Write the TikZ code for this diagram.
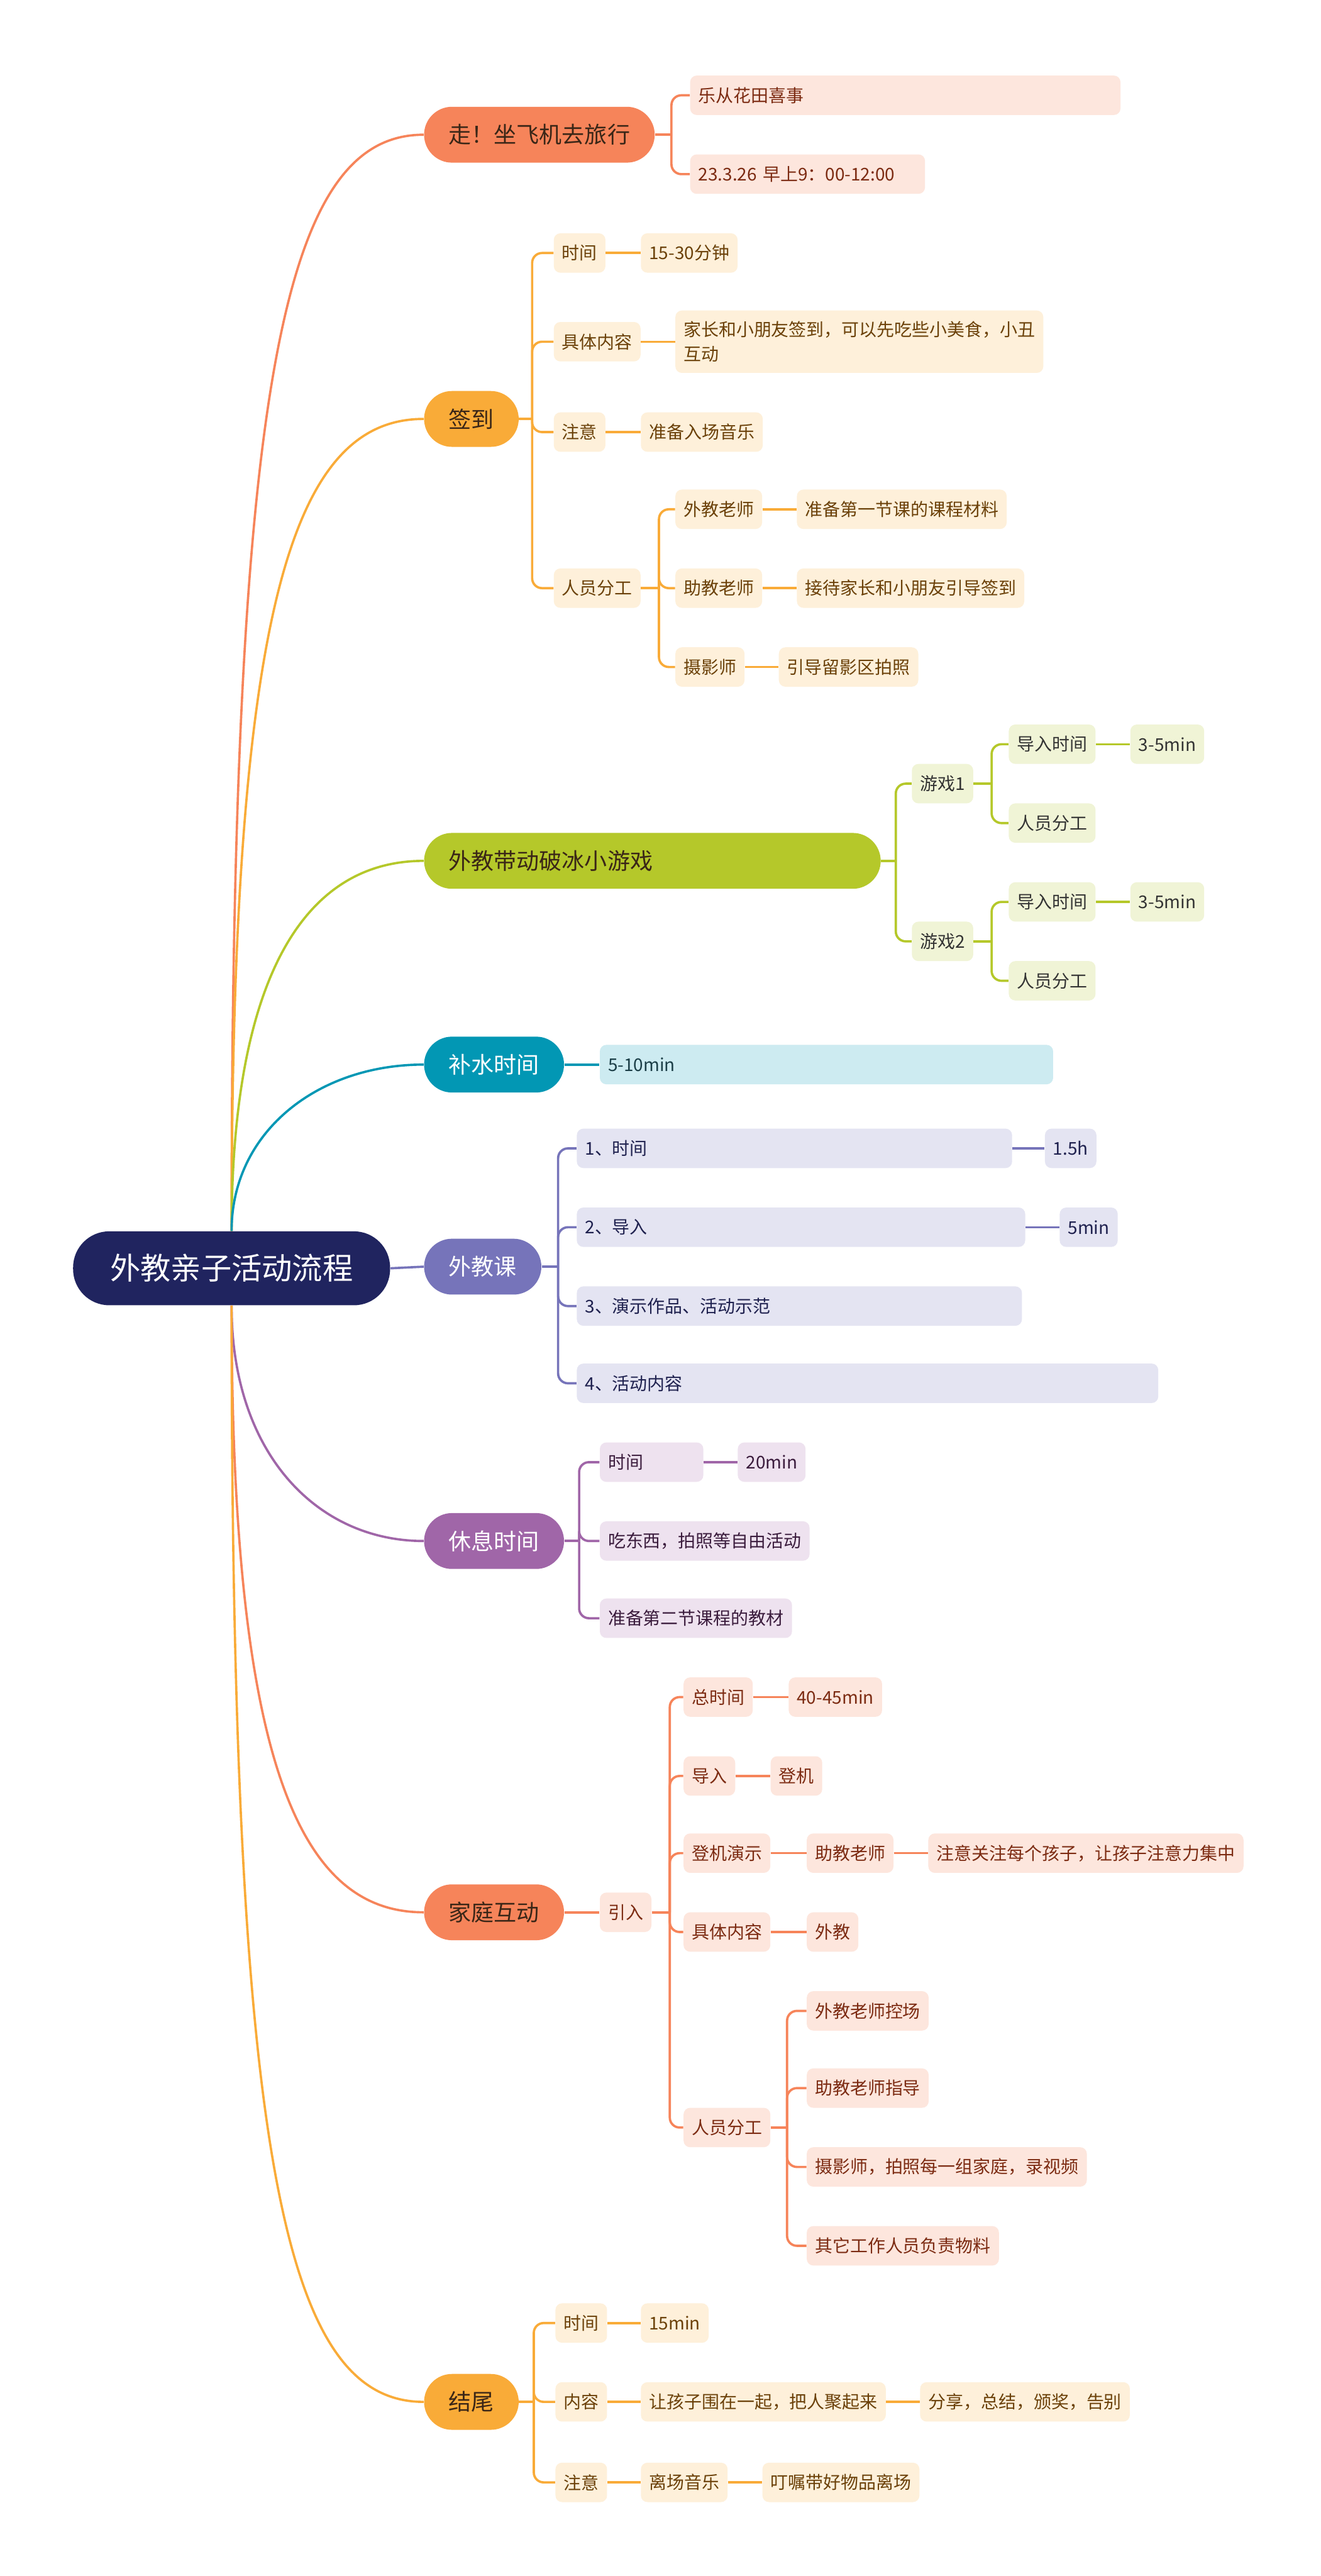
\documentclass[tikz,border=0pt]{standalone}
\usepackage{fontspec}
\setmainfont{Noto Sans CJK SC}
\usetikzlibrary{positioning}
\definecolor{Navy}  {HTML}{20245F}
\definecolor{DarkTx}{HTML}{3A2617}
\definecolor{Sal}   {HTML}{F6845A}
\definecolor{SalLt} {HTML}{FDE6DD}
\definecolor{SalTx} {HTML}{7C2B12}
\definecolor{Ora}   {HTML}{F9AB38}
\definecolor{OraLt} {HTML}{FEF0DA}
\definecolor{OraTx} {HTML}{6B4109}
\definecolor{Lime}  {HTML}{B5C82A}
\definecolor{LimeLt}{HTML}{F0F4D6}
\definecolor{LimeTx}{HTML}{333333}
\definecolor{Teal}  {HTML}{0297B4}
\definecolor{TealLt}{HTML}{CDEBF1}
\definecolor{TealTx}{HTML}{1B3E47}
\definecolor{Iris}  {HTML}{7674BA}
\definecolor{IrisLt}{HTML}{E4E4F2}
\definecolor{IrisTx}{HTML}{1F214F}
\definecolor{Plum}  {HTML}{A066A8}
\definecolor{PlumLt}{HTML}{EEE2EF}
\definecolor{PlumTx}{HTML}{3B1C3D}

\begin{document}
\begin{tikzpicture}[x=1pt,y=-1pt,
    root/.style={fill=Navy,text=white,rounded corners=22pt,
                 minimum width=193pt,minimum height=45pt,
                 font=\fontsize{18.5}{20}\selectfont},
    l1/.style={fill=#1,rounded corners=17pt,minimum height=34pt,
               inner xsep=15pt,inner ysep=0pt,anchor=west,align=left,
               font=\fontsize{13.8}{16}\selectfont},
    leaf/.style={rounded corners=4pt,minimum height=24pt,inner xsep=5pt,
                 inner ysep=2pt,anchor=west,align=left,
                 font=\fontsize{10.7}{13.5}\selectfont},
    sal/.style={leaf,fill=SalLt,text=SalTx},
    ora/.style={leaf,fill=OraLt,text=OraTx},
    lime/.style={leaf,fill=LimeLt,text=LimeTx},
    teal/.style={leaf,fill=TealLt,text=TealTx},
    iris/.style={leaf,fill=IrisLt,text=IrisTx},
    plum/.style={leaf,fill=PlumLt,text=PlumTx},
    ln/.style={draw=#1,line width=1.4pt},
    br/.style={ln=#1,rounded corners=6pt}]
  \path[use as bounding box,fill=white] (0,0) rectangle (804,1568);

  % centre and main branches
  \node[root] (root) at (141,772) {外教亲子活动流程};
  \node[l1=Sal,text=DarkTx]  (trip)   at (258,82)   {走！坐飞机去旅行};
  \node[l1=Ora,text=DarkTx]  (sign)   at (258,255)  {签到};
  \node[l1=Lime,text=DarkTx,text width=248pt] (game) at (258,524) {外教带动破冰小游戏};
  \node[l1=Teal,text=white]  (water)  at (258,648)  {补水时间};
  \node[l1=Iris,text=white]  (lesson) at (258,771)  {外教课};
  \node[l1=Plum,text=white]  (rest)   at (258,938)  {休息时间};
  \node[l1=Sal,text=DarkTx]  (family) at (258,1164) {家庭互动};
  \node[l1=Ora,text=DarkTx]  (ending) at (258,1462) {结尾};

  \draw[ln=Sal]  (root.north) .. controls +(0,-520) and +(-85,0) .. (trip.west);
  \draw[ln=Ora]  (root.north) .. controls +(0,-380) and +(-80,0) .. (sign.west);
  \draw[ln=Lime] (root.north) .. controls +(0,-150) and +(-75,0) .. (game.west);
  \draw[ln=Teal] (root.north) .. controls +(0,-60) and +(-65,0) .. (water.west);
  \draw[ln=Iris] (root.east) -- (lesson.west);
  \draw[ln=Plum] (root.south) .. controls +(0,90) and +(-65,0) .. (rest.west);
  \draw[ln=Sal]  (root.south) .. controls +(0,280) and +(-75,0) .. (family.west);
  \draw[ln=Ora]  (root.south) .. controls +(0,520) and +(-85,0) .. (ending.west);

  % trip
  \node[sal,text width=252pt] (flower) at (420,58)  {乐从花田喜事};
  \node[sal,text width=133pt] (date)   at (420,106) {23.3.26 早上9：00-12:00};
  \path (trip.east) ++(10,0) coordinate (tripJ);
  \draw[ln=Sal] (trip.east) -- (tripJ);
  \foreach \c in {flower,date} \draw[br=Sal] (tripJ) |- (\c.west);

  % sign
  \node[ora] (sgT)   at (337,154) {时间};
  \node[ora] (sgTv)  at (390,154) {15-30分钟};
  \node[ora] (sgC)   at (337,208) {具体内容};
  \node[ora,minimum height=38pt,font=\fontsize{10.7}{15}\selectfont] (sgCv) at (411,208)
       {家长和小朋友签到，可以先吃些小美食，小丑\\互动};
  \node[ora] (sgN)   at (337,263) {注意};
  \node[ora] (sgNv)  at (390,263) {准备入场音乐};
  \node[ora] (sgP)   at (337,358) {人员分工};
  \node[ora] (sgP1)  at (411,310) {外教老师};
  \node[ora] (sgP1v) at (485,310) {准备第一节课的课程材料};
  \node[ora] (sgP2)  at (411,358) {助教老师};
  \node[ora] (sgP2v) at (485,358) {接待家长和小朋友引导签到};
  \node[ora] (sgP3)  at (411,406) {摄影师};
  \node[ora] (sgP3v) at (474,406) {引导留影区拍照};
  \path (sign.east) ++(8,0) coordinate (signJ);
  \path (sgP.east) ++(11,0) coordinate (sgPJ);
  \draw[ln=Ora] (sign.east) -- (signJ);
  \draw[ln=Ora] (sgP.east) -- (sgPJ);
  \foreach \c in {sgT,sgC,sgN,sgP} \draw[br=Ora] (signJ) |- (\c.west);
  \foreach \c in {sgP1,sgP2,sgP3} \draw[br=Ora] (sgPJ) |- (\c.west);
  \foreach \a/\b in {sgT/sgTv,sgC/sgCv,sgN/sgNv,sgP1/sgP1v,sgP2/sgP2v,sgP3/sgP3v}
    \draw[ln=Ora] (\a.east) -- (\b.west);

  % game
  \node[lime] (g1)   at (555,477) {游戏1};
  \node[lime] (g1a)  at (614,453) {导入时间};
  \node[lime] (g1av) at (688,453) {3-5min};
  \node[lime] (g1b)  at (614,501) {人员分工};
  \node[lime] (g2)   at (555,573) {游戏2};
  \node[lime] (g2a)  at (614,549) {导入时间};
  \node[lime] (g2av) at (688,549) {3-5min};
  \node[lime] (g2b)  at (614,597) {人员分工};
  \path (game.east) ++(9,0) coordinate (gameJ);
  \path (g1.east) ++(11,0) coordinate (g1J);
  \path (g2.east) ++(11,0) coordinate (g2J);
  \draw[ln=Lime] (game.east) -- (gameJ);
  \draw[ln=Lime] (g1.east) -- (g1J);
  \draw[ln=Lime] (g2.east) -- (g2J);
  \foreach \c in {g1,g2} \draw[br=Lime] (gameJ) |- (\c.west);
  \foreach \c in {g1a,g1b} \draw[br=Lime] (g1J) |- (\c.west);
  \foreach \c in {g2a,g2b} \draw[br=Lime] (g2J) |- (\c.west);
  \foreach \a/\b in {g1a/g1av,g2a/g2av} \draw[ln=Lime] (\a.east) -- (\b.west);

  % water
  \node[teal,text width=266pt] (wv) at (365,648) {5-10min};
  \draw[ln=Teal] (water.east) -- (wv.west);

  % lesson
  \node[iris,text width=255pt] (ls1)  at (351,699) {1、时间};
  \node[iris]                  (ls1v) at (636,699) {1.5h};
  \node[iris,text width=263pt] (ls2)  at (351,747) {2、导入};
  \node[iris]                  (ls2v) at (645,747) {5min};
  \node[iris,text width=261pt] (ls3)  at (351,795) {3、演示作品、活动示范};
  \node[iris,text width=344pt] (ls4)  at (351,842) {4、活动内容};
  \path (lesson.east) ++(10,0) coordinate (lessonJ);
  \draw[ln=Iris] (lesson.east) -- (lessonJ);
  \foreach \c in {ls1,ls2,ls3,ls4} \draw[br=Iris] (lessonJ) |- (\c.west);
  \foreach \a/\b in {ls1/ls1v,ls2/ls2v} \draw[ln=Iris] (\a.east) -- (\b.west);

  % rest
  \node[plum,text width=53pt] (rs1)  at (365,890) {时间};
  \node[plum]                 (rs1v) at (449,890) {20min};
  \node[plum]                 (rs2)  at (365,938) {吃东西，拍照等自由活动};
  \node[plum]                 (rs3)  at (365,985) {准备第二节课程的教材};
  \path (rest.east) ++(9,0) coordinate (restJ);
  \draw[ln=Plum] (rest.east) -- (restJ);
  \foreach \c in {rs1,rs2,rs3} \draw[br=Plum] (restJ) |- (\c.west);
  \draw[ln=Plum] (rs1.east) -- (rs1v.west);

  % family
  \node[sal] (fIn)  at (365,1164) {引入};
  \node[sal] (fT)   at (416,1033) {总时间};
  \node[sal] (fTv)  at (480,1033) {40-45min};
  \node[sal] (fD)   at (416,1081) {导入};
  \node[sal] (fDv)  at (469,1081) {登机};
  \node[sal] (fS)   at (416,1128) {登机演示};
  \node[sal] (fSa)  at (491,1128) {助教老师};
  \node[sal] (fSav) at (565,1128) {注意关注每个孩子，让孩子注意力集中};
  \node[sal] (fC)   at (416,1176) {具体内容};
  \node[sal] (fCv)  at (491,1176) {外教};
  \node[sal] (fP)   at (416,1295) {人员分工};
  \node[sal] (fP1)  at (491,1224) {外教老师控场};
  \node[sal] (fP2)  at (491,1271) {助教老师指导};
  \node[sal] (fP3)  at (491,1319) {摄影师，拍照每一组家庭，录视频};
  \node[sal] (fP4)  at (491,1367) {其它工作人员负责物料};
  \path (fIn.east) ++(11,0) coordinate (fInJ);
  \path (fP.east) ++(10,0) coordinate (fPJ);
  \draw[ln=Sal] (family.east) -- (fIn.west);
  \draw[ln=Sal] (fIn.east) -- (fInJ);
  \draw[ln=Sal] (fP.east) -- (fPJ);
  \foreach \c in {fT,fD,fS,fC,fP} \draw[br=Sal] (fInJ) |- (\c.west);
  \foreach \c in {fP1,fP2,fP3,fP4} \draw[br=Sal] (fPJ) |- (\c.west);
  \foreach \a/\b in {fT/fTv,fD/fDv,fS/fSa,fSa/fSav,fC/fCv}
    \draw[ln=Sal] (\a.east) -- (\b.west);

  % ending
  \node[ora] (eT)  at (338,1414) {时间};
  \node[ora] (eTv) at (390,1414) {15min};
  \node[ora] (eC)  at (338,1462) {内容};
  \node[ora] (eCv) at (390,1462) {让孩子围在一起，把人聚起来};
  \node[ora] (eCw) at (560,1462) {分享，总结，颁奖，告别};
  \node[ora] (eN)  at (338,1511) {注意};
  \node[ora] (eNv) at (390,1511) {离场音乐};
  \node[ora] (eNw) at (464,1511) {叮嘱带好物品离场};
  \path (ending.east) ++(9,0) coordinate (endingJ);
  \draw[ln=Ora] (ending.east) -- (endingJ);
  \foreach \c in {eT,eC,eN} \draw[br=Ora] (endingJ) |- (\c.west);
  \foreach \a/\b in {eT/eTv,eC/eCv,eCv/eCw,eN/eNv,eNv/eNw}
    \draw[ln=Ora] (\a.east) -- (\b.west);
\end{tikzpicture}
\end{document}
